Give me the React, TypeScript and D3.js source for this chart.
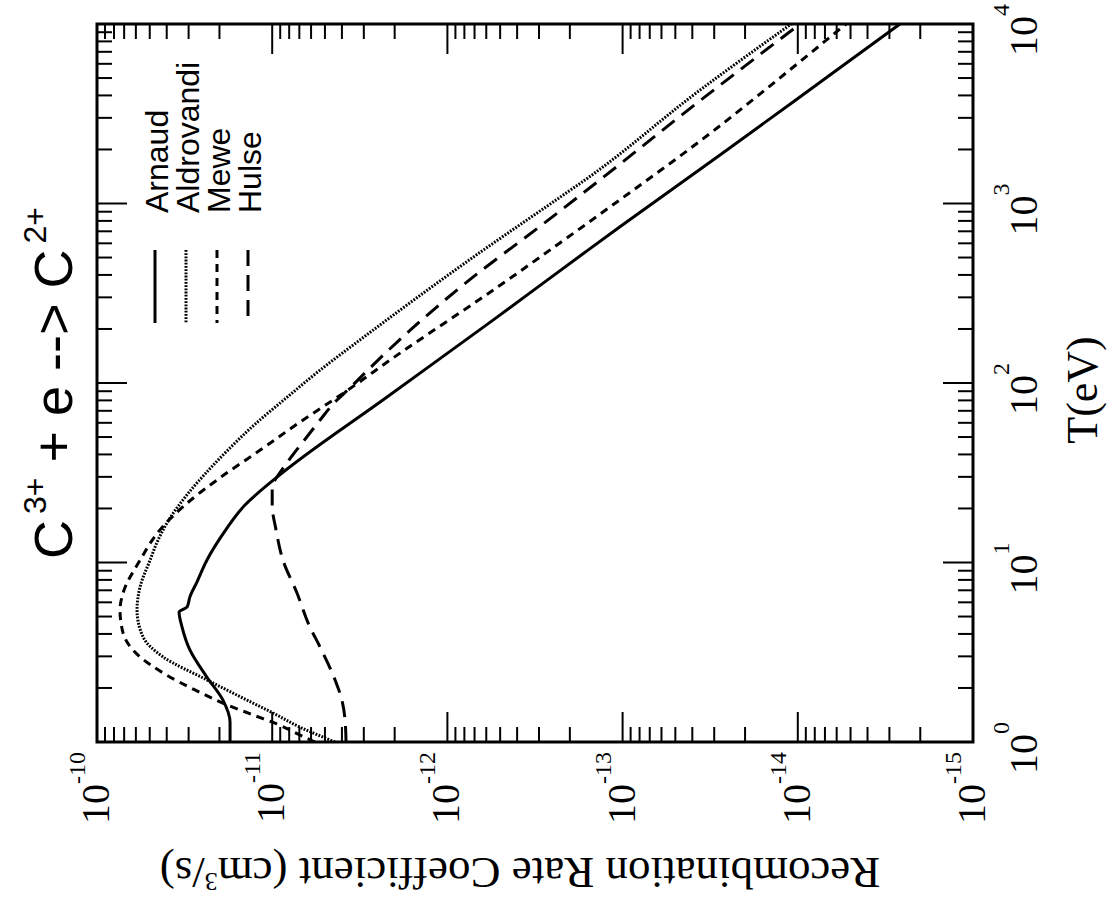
import React from "react";
import * as d3 from "d3";

// Temperature axis (eV) decades and exponents
const tDecades = [1, 10, 100, 1000, 10000];
const tExponents = ["0", "1", "2", "3", "4"];
// Rate axis (cm^3/s) decades and exponents
const rateDecades = [1e-10, 1e-11, 1e-12, 1e-13, 1e-14, 1e-15];
const rateExponents = ["-10", "-11", "-12", "-13", "-14", "-15"];

const seriesNames = ["Arnaud", "Aldrovandi", "Mewe", "Hulse"];

// Arnaud
const arnaudT = [1, 1.29, 1.71, 2.3, 3.26, 4.37, 5.3, 5.65, 6.43, 7.78, 10.3, 14.2, 20.9, 29.9, 83.6, 224, 530, 740, 1862, 5200, 10000];
const arnaudRate = [1.74e-11, 1.74e-11, 1.91e-11, 2.36e-11, 2.95e-11, 3.27e-11, 3.4e-11, 3.06e-11, 2.95e-11, 2.69e-11, 2.36e-11, 1.93e-11, 1.43e-11, 9.39e-12, 2.21e-12, 5.49e-13, 1.66e-13, 1.04e-13, 2.78e-14, 6.55e-15, 2.61e-15];

// Aldrovandi
const aldrovandiT = [1, 1.21, 1.45, 1.71, 2.22, 2.98, 3.85, 5.44, 7.3, 10.3, 13.3, 17.7, 23.5, 31.1, 42.3, 59.1, 81.5, 118, 174, 466, 1144, 1352, 4290, 10000];
const aldrovandiRate = [4.38e-12, 6.94e-12, 9.89e-12, 1.39e-11, 2.36e-11, 4.2e-11, 5.46e-11, 5.91e-11, 5.68e-11, 4.98e-11, 4.49e-11, 3.83e-11, 3.1e-11, 2.42e-11, 1.79e-11, 1.25e-11, 8.45e-12, 5.33e-12, 3.15e-12, 7.94e-13, 2.1e-13, 1.64e-13, 3.61e-14, 1.09e-14];

// Mewe
const meweT = [1, 1.094, 1.26, 1.4, 1.63, 1.95, 2.39, 2.98, 4.05, 5.44, 6.76, 10.3, 15.2, 20.9, 29.6, 42.3, 60.6, 89.1, 138, 347, 603, 1046, 2229, 5984, 10000];
const meweRate = [5.7e-12, 6.94e-12, 9.39e-12, 1.25e-11, 1.86e-11, 2.76e-11, 4.09e-11, 5.68e-11, 7.1e-11, 7.39e-11, 7.1e-11, 5.68e-11, 4.37e-11, 3.15e-11, 1.99e-11, 1.17e-11, 6.94e-12, 3.84e-12, 2.04e-12, 5.07e-13, 2.28e-13, 1.04e-13, 3.61e-14, 1.01e-14, 5.31e-15];

// Hulse
const hulseT = [1, 1.33, 1.71, 2.22, 3.38, 4.37, 6.76, 10.3, 15.2, 20.9, 26.0, 32.8, 39.2, 49.4, 62.2, 78.4, 93.8, 114, 197, 385, 731, 1352, 3631, 10000];
const hulseRate = [3.79e-12, 3.84e-12, 4.0e-12, 4.38e-12, 5.33e-12, 6.09e-12, 7.22e-12, 8.68e-12, 9.51e-12, 1.0e-11, 1.0e-11, 8.8e-12, 7.71e-12, 6.41e-12, 5.33e-12, 4.38e-12, 3.6e-12, 2.95e-12, 1.63e-12, 7.24e-13, 3.04e-13, 1.35e-13, 3.76e-14, 9.71e-15];

const W = 1111;
const H = 901;
const L = 97, R = 973, T = 24, B = 742;

const xR = d3.scaleLog().domain([1e-10, 1e-15]).range([L, R]);
const yT = d3.scaleLog().domain([1, 1e4]).range([B, T]);

const line = d3
  .line<[number, number]>()
  .x((d) => xR(d[1]))
  .y((d) => yT(d[0]))
  .curve(d3.curveMonotoneY);

const zip = (a: number[], b: number[]) => a.map((v, i) => [v, b[i]] as [number, number]);

const series = [
  { name: seriesNames[0], data: zip(arnaudT, arnaudRate), dash: "none" },
  { name: seriesNames[1], data: zip(aldrovandiT, aldrovandiRate), dash: "1.8 1.4" },
  { name: seriesNames[2], data: zip(meweT, meweRate), dash: "8 6" },
  { name: seriesNames[3], data: zip(hulseT, hulseRate), dash: "16 9" },
];

const tMinor: number[] = [];
for (let d = 0; d < 4; d++) for (let m = 2; m <= 9; m++) tMinor.push(m * Math.pow(10, d));
const rMinor: number[] = [];
for (let e = -15; e < -10; e++) for (let m = 2; m <= 9; m++) rMinor.push(m * Math.pow(10, e));

const serif = "'Liberation Serif', 'Times New Roman', serif";
const sans = "'Liberation Sans', Arial, sans-serif";

export default function App() {
  const majorLen = 30;
  const minorLen = 15;
  return (
    <svg
      width={W}
      height={H}
      style={{ position: "absolute", left: 0, top: 0, display: "block", background: "#fff" }}
    >
      <defs>
        <clipPath id="plotclip">
          <rect x={L} y={T} width={R - L} height={B - T} />
        </clipPath>
      </defs>
      <rect x={0} y={0} width={W} height={H} fill="#fff" />

      {/* ticks */}
      <g stroke="#000" strokeWidth={2}>
        {tDecades.map((v, i) => (
          <g key={"tM" + i}>
            <line x1={L} x2={L + majorLen} y1={yT(v)} y2={yT(v)} />
            <line x1={R} x2={R - majorLen} y1={yT(v)} y2={yT(v)} />
          </g>
        ))}
        {tMinor.map((v, i) => (
          <g key={"tm" + i}>
            <line x1={L} x2={L + minorLen} y1={yT(v)} y2={yT(v)} />
            <line x1={R} x2={R - minorLen} y1={yT(v)} y2={yT(v)} />
          </g>
        ))}
        {rateDecades.map((v, i) => (
          <g key={"rM" + i}>
            <line x1={xR(v)} x2={xR(v)} y1={T} y2={T + majorLen} />
            <line x1={xR(v)} x2={xR(v)} y1={B} y2={B - majorLen} />
          </g>
        ))}
        {rMinor.map((v, i) => (
          <g key={"rm" + i}>
            <line x1={xR(v)} x2={xR(v)} y1={T} y2={T + minorLen} />
            <line x1={xR(v)} x2={xR(v)} y1={B} y2={B - minorLen} />
          </g>
        ))}
      </g>

      {/* curves */}
      <g clipPath="url(#plotclip)" fill="none" stroke="#000" strokeWidth={3}>
        {series.map((s) => (
          <path key={s.name} d={line(s.data) || ""} strokeDasharray={s.dash} />
        ))}
      </g>

      {/* frame */}
      <rect x={L} y={T} width={R - L} height={B - T} fill="none" stroke="#000" strokeWidth={3} />

      {/* legend */}
      {series.map((s, i) => {
        const bx = 168 + i * 31;
        const lx = 155 + i * 31;
        return (
          <g key={"leg" + i}>
            <line x1={lx} x2={lx} y1={250} y2={323} stroke="#000" strokeWidth={3} strokeDasharray={s.dash} />
            <text
              transform={`translate(${bx},213) rotate(-90)`}
              fontFamily={sans}
              fontSize={32}
              textAnchor="start"
            >
              {s.name}
            </text>
          </g>
        );
      })}

      {/* rate tick labels (bottom) */}
      {rateDecades.map((v, i) => (
        <text
          key={"rl" + i}
          transform={`translate(${xR(v) + 12},752) rotate(-90)`}
          fontFamily={serif}
          fontSize={40}
          textAnchor="end"
        >
          <tspan>10</tspan>
          <tspan dy={-24} fontSize={24}>{rateExponents[i]}</tspan>
        </text>
      ))}

      {/* temperature tick labels (right) */}
      {tDecades.map((v, i) => (
        <text
          key={"tl" + i}
          transform={`translate(1037,${yT(v) + 6}) rotate(-90)`}
          fontFamily={serif}
          fontSize={40}
          textAnchor="middle"
        >
          <tspan>10</tspan>
          <tspan dy={-28} fontSize={24}>{tExponents[i]}</tspan>
        </text>
      ))}

      {/* T(eV) axis label */}
      <text
        transform={`translate(1097,390) rotate(-90)`}
        fontFamily={serif}
        fontSize={44}
        textAnchor="middle"
      >
        T(eV)
      </text>

      {/* rate axis label, upside down */}
      <text
        transform={`translate(520,858) rotate(180)`}
        fontFamily={serif}
        fontSize={45}
        textAnchor="middle"
      >
        <tspan>Recombination Rate Coefficient (cm</tspan>
        <tspan dy={-15} fontSize={26}>3</tspan>
        <tspan dy={15}>/s)</tspan>
      </text>

      {/* title on the left, rotated */}
      <text
        transform={`translate(72,383) rotate(-90)`}
        fontFamily={sans}
        fontSize={54}
        textAnchor="middle"
      >
        <tspan>C</tspan>
        <tspan dx={6} dy={-26} fontSize={32}>3+</tspan>
        <tspan dy={26}> + e --&gt;  C</tspan>
        <tspan dx={6} dy={-26} fontSize={32}>2+</tspan>
      </text>
    </svg>
  );
}
